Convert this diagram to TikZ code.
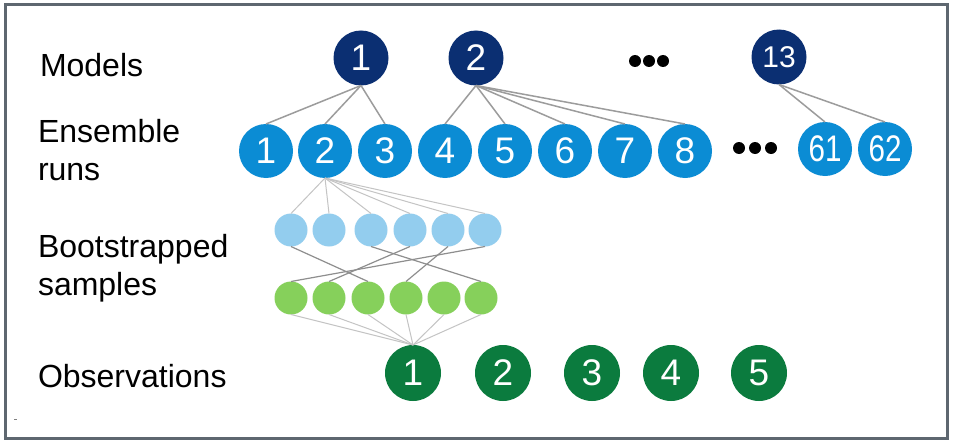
\documentclass[tikz,border=0pt]{standalone}
\usepackage{fontspec}
\setmainfont{Liberation Sans}
\definecolor{modelblue}{HTML}{0B2F72}
\definecolor{runblue}{HTML}{0B8CD4}
\definecolor{samplelightblue}{HTML}{93CDEE}
\definecolor{samplegreen}{HTML}{86D05B}
\definecolor{obsgreen}{HTML}{0B7B3E}
\definecolor{framegray}{HTML}{5E6770}
\definecolor{linkgray}{HTML}{9C9C9C}
\definecolor{thinlinkgray}{HTML}{C4C4C4}
\definecolor{crossgray}{HTML}{8E8E8E}
\begin{document}
\begin{tikzpicture}[x=1pt,y=-1pt,
  every node/.style={inner sep=0pt, outer sep=0pt},
  rowlabel/.style={anchor=base west, align=left, text=black,
    font=\fontsize{32}{38}\selectfont},
  numfont/.style={font=\fontsize{37}{37}\selectfont},
  modelnode/.style={circle, fill=modelblue, minimum size=55pt, text=white, numfont},
  runnode/.style={circle, fill=runblue, minimum size=54pt, text=white, numfont},
  bootnode/.style={circle, fill=samplelightblue, minimum size=33pt},
  sampnode/.style={circle, fill=samplegreen, minimum size=33pt},
  obsnode/.style={circle, fill=obsgreen, minimum size=56pt, text=white, numfont},
  dotmark/.style={fill=black},
  modellink/.style={draw=linkgray, line width=1.5pt},
  bootlink/.style={draw=thinlinkgray, line width=1pt},
  crosslink/.style={draw=crossgray, line width=1.2pt},
  obslink/.style={draw=thinlinkgray, line width=1pt}
]
\useasboundingbox (0,0) rectangle (953,444);
\fill[white] (0,0) rectangle (953,444);
\draw[framegray, line width=3pt] (5,5) rectangle (947,438);

% row labels (a two-line label is anchored at the baseline of its last line)
\node[rowlabel] (lmodels) at (40,77) {Models};
\node[rowlabel] (lruns) at (38,180) {Ensemble\\runs};
\node[rowlabel] (lboot) at (38,295) {Bootstrapped\\samples};
\node[rowlabel] (lobs) at (38,387) {Observations};

% models
\node[modelnode] (m1) at (361,58) {1};
\node[modelnode] (m2) at (476,58) {2};
\node[modelnode, font=\fontsize{30}{30}\selectfont] (m13) at (779,57) {13};
\foreach \x in {635,649,663} \fill[dotmark] (\x,61) circle (6pt);

% ensemble runs
\foreach \i/\x in {1/266,2/325,3/385,4/445,5/505,6/565,7/625,8/685}
  \node[runnode] (e\i) at (\x,151) {\i};
\node[runnode] (e61) at (825,149) {\scalebox{0.8}[1]{61}};
\node[runnode] (e62) at (885,149) {\scalebox{0.8}[1]{62}};
\foreach \x in {739,755,771} \fill[dotmark] (\x,148) circle (6pt);

% bootstrapped samples
\foreach \i/\x in {1/291,2/329,3/371,4/410,5/448,6/485}
  \node[bootnode] (b\i) at (\x,230) {};
\foreach \i/\x in {1/291,2/329,3/368,4/406,5/444,6/481}
  \node[sampnode] (s\i) at (\x,298) {};

% observations
\foreach \i/\x in {1/413,2/503,3/592,4/671,5/759}
  \node[obsnode] (o\i) at (\x,373) {\i};

% model to run links
\foreach \j in {1,2,3} \draw[modellink] (m1.south) -- (e\j.north);
\foreach \j in {4,5,6,7,8} \draw[modellink] (m2.south) -- (e\j.north);
\foreach \j in {61,62} \draw[modellink] (m13.south) -- (e\j.north);

% run 2 to bootstrap draws
\foreach \j in {1,...,6} \draw[bootlink] (e2.south) -- (b\j.north);

% resampling links
\draw[crosslink] (b1.south) -- (s3.north);
\draw[crosslink] (b3.south) -- (s6.north);
\draw[crosslink] (b4.south) -- (s2.north);
\draw[crosslink] (b5.south) -- (s4.north);
\draw[crosslink] (b6.south) -- (s1.north);

% samples to observation 1
\foreach \j in {1,...,6} \draw[obslink] (s\j.south) -- (o1.north);

% small mark near the lower left corner
\draw[gray, line width=0.8pt] (14,419) -- (16.5,419);
\end{tikzpicture}
\end{document}
